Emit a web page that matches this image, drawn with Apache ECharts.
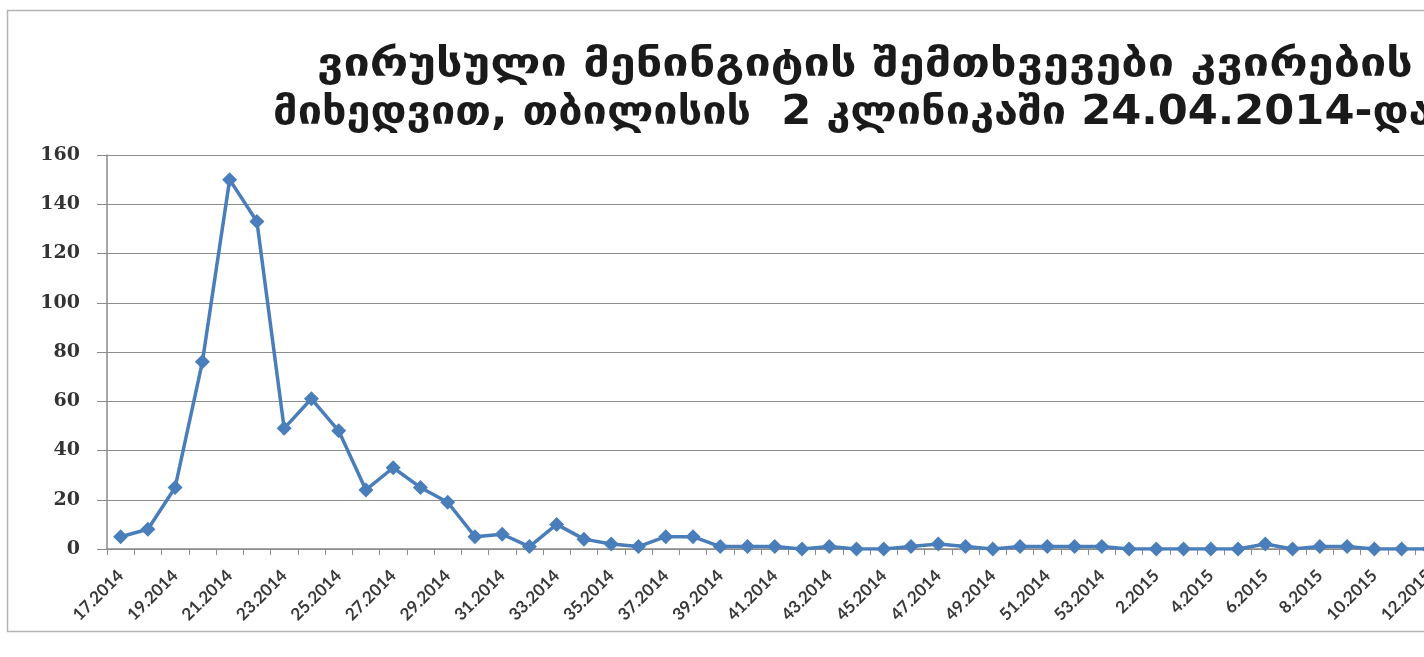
<!DOCTYPE html>
<html>
<head>
<meta charset="utf-8">
<script src="https://cdn.jsdelivr.net/npm/echarts@6/dist/echarts.min.js"></script>
<style>
  html, body { margin: 0; padding: 0; background: #ffffff; overflow: hidden; }
  #view { width: 1424px; height: 657px; overflow: hidden; position: relative; }
  #chart { width: 1520px; height: 657px; position: absolute; left: 0; top: 0; }
</style>
</head>
<body>
<div id="view"><div id="chart"></div></div>
<script>
// Title lines
const titleLines = [
  'ვირუსული მენინგიტის შემთხვევები კვირების',
  'მიხედვით, თბილისის  2 კლინიკაში 24.04.2014-დან'
];

// Weeks (week number.year)
const weeks2014 = [17,18,19,20,21,22,23,24,25,26,27,28,29,30,31,32,33,34,35,36,37,38,39,40,41,42,43,44,45,46,47,48,49,50,51,52,53];
const weeks2015 = [1,2,3,4,5,6,7,8,9,10,11,12,13,14];
const categories = weeks2014.map(w => w + '.2014').concat(weeks2015.map(w => w + '.2015'));

// Weekly case counts
const cases2014 = [5,8,25,76,150,133,49,61,48,24,33,25,19,5,6,1,10,4,2,1,5,5,1,1,1,0,1,0,0,1,2,1,0,1,1,1,1];
const cases2015 = [0,0,0,0,0,2,0,1,1,0,0,0];
const cases = cases2014.concat(cases2015);

// Value axis ticks
const yMin = 0, yMax = 160, yStep = 20;

const titleFont = 'bold 40px "DejaVu Sans", sans-serif';

const chart = echarts.init(document.getElementById('chart'), null, { renderer: 'canvas' });

chart.setOption({
  animation: false,
  backgroundColor: '#ffffff',
  graphic: [
    {
      type: 'rect',
      silent: true,
      shape: { x: 7.5, y: 10.5, width: 1700, height: 621 },
      style: { fill: 'none', stroke: '#b4b4b4', lineWidth: 1.5 }
    },
    {
      type: 'text',
      silent: true,
      x: 865, y: 66,
      scaleX: 1.17,
      style: { text: titleLines[0], x: 0, y: 0, align: 'center', verticalAlign: 'middle', font: titleFont, fill: '#1a1a1a' }
    },
    {
      type: 'text',
      silent: true,
      x: 865, y: 114,
      scaleX: 1.08,
      style: { text: titleLines[1], x: 0, y: 0, align: 'center', verticalAlign: 'middle', font: titleFont, fill: '#1a1a1a' }
    }
  ],
  grid: { left: 107, top: 155, right: 23, bottom: 108, containLabel: false },
  xAxis: {
    type: 'category',
    data: categories,
    boundaryGap: true,
    axisLine: { lineStyle: { color: '#8a8a8a', width: 1.5 } },
    axisTick: { show: true, interval: 0, length: 6, lineStyle: { color: '#8a8a8a', width: 1 } },
    axisLabel: {
      interval: 1,
      rotate: 45,
      margin: 24,
      fontFamily: 'Lato, "Open Sans", sans-serif',
      fontWeight: 'bold',
      fontSize: 17,
      color: '#383838'
    },
    splitLine: { show: false }
  },
  yAxis: {
    type: 'value',
    min: yMin,
    max: yMax,
    interval: yStep,
    axisLine: { show: true, lineStyle: { color: '#8a8a8a', width: 1.5 } },
    axisTick: { show: true, length: 10, lineStyle: { color: '#8a8a8a', width: 1 } },
    axisLabel: {
      margin: 27,
      fontFamily: '"DejaVu Serif", serif',
      fontWeight: 'bold',
      fontSize: 19,
      color: '#333333'
    },
    splitLine: { show: true, lineStyle: { color: '#8c8c8c', width: 1.2 } }
  },
  series: [{
    type: 'line',
    data: cases,
    symbol: 'diamond',
    symbolSize: [15, 15],
    lineStyle: { color: '#4a7ebb', width: 3.5 },
    itemStyle: { color: '#4a7ebb' },
    z: 3
  }]
});
</script>
</body>
</html>
